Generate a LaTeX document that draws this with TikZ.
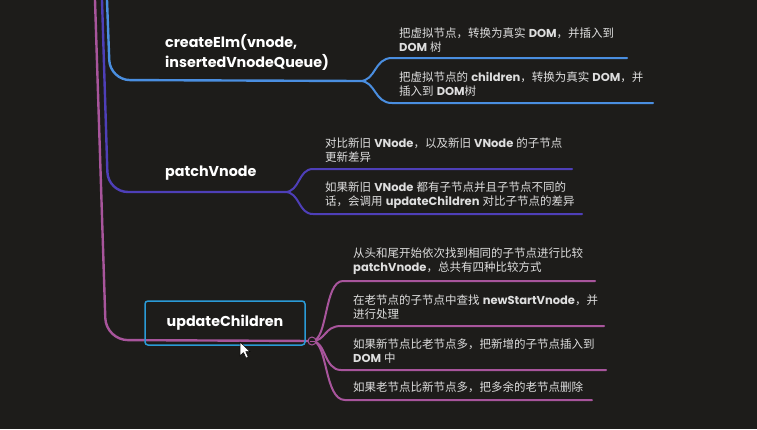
\documentclass[tikz,border=0pt]{standalone}
\usepackage{fontspec}
\setmainfont{Poppins}
\newfontfamily\cjk{Noto Sans CJK SC}
\newcommand\zh[1]{{\cjk #1}}
\newcommand\lt[1]{\textbf{#1}}
\definecolor{bg}{HTML}{1D1C1A}
\definecolor{cblue}{HTML}{4A8EE0}
\definecolor{cviolet}{HTML}{4E3FB8}
\definecolor{cpink}{HTML}{A8559C}
\definecolor{cbox}{HTML}{2A9AD6}
\definecolor{ctext}{HTML}{DEDEDE}
\begin{document}
\begin{tikzpicture}[x=1pt,y=-1pt,
  mainline/.style={line width=2.4pt,line cap=round},
  subline/.style={line width=2pt,line cap=round},
  mainlabel/.style={text=white,font=\fontsize{14.3}{20.5}\selectfont\bfseries,align=left,inner sep=0pt,anchor=west},
  sublabel/.style={text=ctext,font=\fontsize{11.5}{14.5}\selectfont,align=left,inner sep=0pt,anchor=south west}]
\fill[bg] (0,0) rectangle (757,429);
\useasboundingbox (0,0) rectangle (757,429);

% coordinates
\coordinate (btop) at (107,0);
\coordinate (bcorner) at (110,80);
\coordinate (bsplit) at (360,81);
\coordinate (vtop) at (102,0);
\coordinate (vcorner) at (108,192);
\coordinate (vsplit) at (285,192);
\coordinate (ptop) at (95,0);
\coordinate (pcorner) at (106,340);
\coordinate (psplit) at (312,341);

% main branches
\draw[mainline,cpink,rounded corners=22pt] (ptop) -- (pcorner) -- (psplit);
\draw[mainline,cviolet,rounded corners=20pt] (vtop) -- (vcorner) -- (vsplit);
\draw[mainline,cblue,rounded corners=20pt] (btop) -- (bcorner) -- (bsplit);

% labels
\node[mainlabel] (create) at (165,52.5) {createElm(vnode,\\insertedVnodeQueue)};
\node[mainlabel] (patch) at (165,173) {patchVnode};
\node[draw=cbox,line width=1.5pt,rounded corners=3pt,minimum width=160pt,minimum height=44pt,
      text=white,font=\fontsize{14.3}{20}\selectfont\bfseries] (upd) at (225,323) {updateChildren};

% blue children
\node[sublabel] (b1) at (399,53) {\zh{把虚拟节点，转换为真实} \lt{DOM}\zh{，并插入到}\\\lt{DOM} \zh{树}};
\node[sublabel] (b2) at (399,97) {\zh{把虚拟节点的} \lt{children}\zh{，转换为真实} \lt{DOM}\zh{，并}\\\zh{插入到} \lt{DOM}\zh{树}};
\coordinate (b1s) at (392,58); \coordinate (b1e) at (627,58);
\coordinate (b2s) at (392,103); \coordinate (b2e) at (653,103);
\draw[subline,cblue] (bsplit) .. controls (376,81) and (374,58) .. (b1s) -- (b1e);
\draw[subline,cblue] (bsplit) .. controls (376,81) and (374,103) .. (b2s) -- (b2e);

% violet children
\node[sublabel] (v1) at (325,163) {\zh{对比新旧} \lt{VNode}\zh{，以及新旧} \lt{VNode} \zh{的子节点}\\\zh{更新差异}};
\node[sublabel] (v2) at (325,209) {\zh{如果新旧} \lt{VNode} \zh{都有子节点并且子节点不同的}\\\zh{话，会调用} \lt{updateChildren} \zh{对比子节点的差异}};
\coordinate (v1s) at (313,169); \coordinate (v1e) at (572,169);
\coordinate (v2s) at (313,214); \coordinate (v2e) at (582,214);
\draw[subline,cviolet] (vsplit) .. controls (300,192) and (298,169) .. (v1s) -- (v1e);
\draw[subline,cviolet] (vsplit) .. controls (300,192) and (298,214) .. (v2s) -- (v2e);

% pink children
\node[sublabel] (p1) at (353,275) {\zh{从头和尾开始依次找到相同的子节点进行比较}\\\lt{patchVnode}\zh{，总共有四种比较方式}};
\node[sublabel] (p2) at (353,320) {\zh{在老节点的子节点中查找} \lt{newStartVnode}\zh{，并}\\\zh{进行处理}};
\node[sublabel] (p3) at (353,364) {\zh{如果新节点比老节点多，把新增的子节点插入到}\\\lt{DOM} \zh{中}};
\node[sublabel] (p4) at (353,393) {\zh{如果老节点比新节点多，把多余的老节点删除}};
\coordinate (p1s) at (343,281); \coordinate (p1e) at (595,281);
\coordinate (p2s) at (341,326); \coordinate (p2e) at (604,326);
\coordinate (p3s) at (341,370); \coordinate (p3e) at (606,370);
\coordinate (p4s) at (345,400); \coordinate (p4e) at (592,400);
\draw[subline,cpink] (psplit) .. controls (328,341) and (324,281) .. (p1s) -- (p1e);
\draw[subline,cpink] (psplit) .. controls (326,341) and (324,326) .. (p2s) -- (p2e);
\draw[subline,cpink] (psplit) .. controls (326,341) and (324,370) .. (p3s) -- (p3e);
\draw[subline,cpink] (psplit) .. controls (328,341) and (324,400) .. (p4s) -- (p4e);
\node[circle,draw=cpink,fill=bg,line width=1pt,minimum size=8pt,inner sep=0pt] (fold) at (psplit) {};
\draw[cpink,line width=0.8pt] ([xshift=-2.5pt]fold.center) -- ([xshift=2.5pt]fold.center);

% cursor
\filldraw[fill=white,draw=black,line width=0.5pt] (240,342) -- (240,356) -- (243.5,352.6) -- (246,358) -- (248.2,357) -- (245.8,351.6) -- (250,351.6) -- cycle;
\end{tikzpicture}
\end{document}
